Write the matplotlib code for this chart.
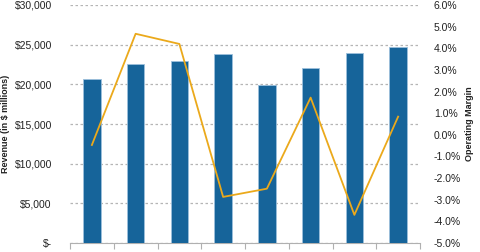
import matplotlib
matplotlib.use("Agg")
import matplotlib.pyplot as plt
from matplotlib.ticker import FuncFormatter

years = ["2006", "2007", "2008", "2009", "2010", "2011", "2012", "2013"]
revenue = [20630, 22520, 22900, 23780, 19870, 22100, 23950, 24750]
op_margin = [-0.47, 4.67, 4.20, -2.87, -2.49, 1.72, -3.70, 0.84]

plt.rcParams['font.family'] = ['Liberation Sans', 'DejaVu Sans']

fig = plt.figure(figsize=(4.8, 2.52), dpi=100)
ax = fig.add_axes([70/480, 1 - 243/252, 350/480, 238/252])
ax2 = ax.twinx()

x = list(range(len(years)))
ax.bar(x, revenue, width=0.4, color='#16649A', edgecolor='#9cc0dc', linewidth=0.6, zorder=3)
ax.set_xlim(-0.5, len(years) - 0.5)
ax.set_ylim(0, 30000)
ax.set_yticks(range(0, 30001, 5000))
ax.yaxis.set_major_formatter(FuncFormatter(lambda v, p: "$-" if v == 0 else f"${v:,.0f}"))
ax.grid(axis='y', linestyle=(0, (2, 2)), color='#b5b5b5', linewidth=0.9, zorder=0)
ax.set_axisbelow(True)
ax.set_xticks([i - 0.5 for i in range(len(years) + 1)], minor=False)
ax.set_xticklabels([])
ax.set_xticks(x, minor=True)
ax.set_xticklabels(years, minor=True, fontsize=7.5, color='#333333')
ax.tick_params(axis='x', which='major', length=4, color='#b0b0b0', width=0.8)
ax.tick_params(axis='x', which='minor', length=0, pad=8)
ax.tick_params(axis='y', length=0, labelsize=7.5, labelcolor='#222222', pad=13)
for s in ['top', 'left', 'right']:
    ax.spines[s].set_visible(False)
ax.spines['bottom'].set_color('#b0b0b0')
ax.set_ylabel("Revenue (in $ millions)", fontsize=6.5, fontweight='bold', color='#222222')
ax.yaxis.set_label_coords(-0.171, 0.5)

ax2.plot(x, op_margin, color='#EBA91B', linewidth=1.3, zorder=4)
ax2.set_ylim(-5, 6)
ax2.set_yticks(range(-5, 7))
ax2.yaxis.set_major_formatter(FuncFormatter(lambda v, p: f"{v:.1f}%"))
ax2.tick_params(axis='y', length=0, labelsize=7.5, labelcolor='#222222', pad=10)
for s in ['top', 'left', 'right', 'bottom']:
    ax2.spines[s].set_visible(False)
ax2.set_ylabel("Operating Margin", fontsize=6.5, fontweight='bold', color='#222222')
ax2.yaxis.set_label_coords(1.129, 0.5)

fig.savefig("out.png", dpi=100)
